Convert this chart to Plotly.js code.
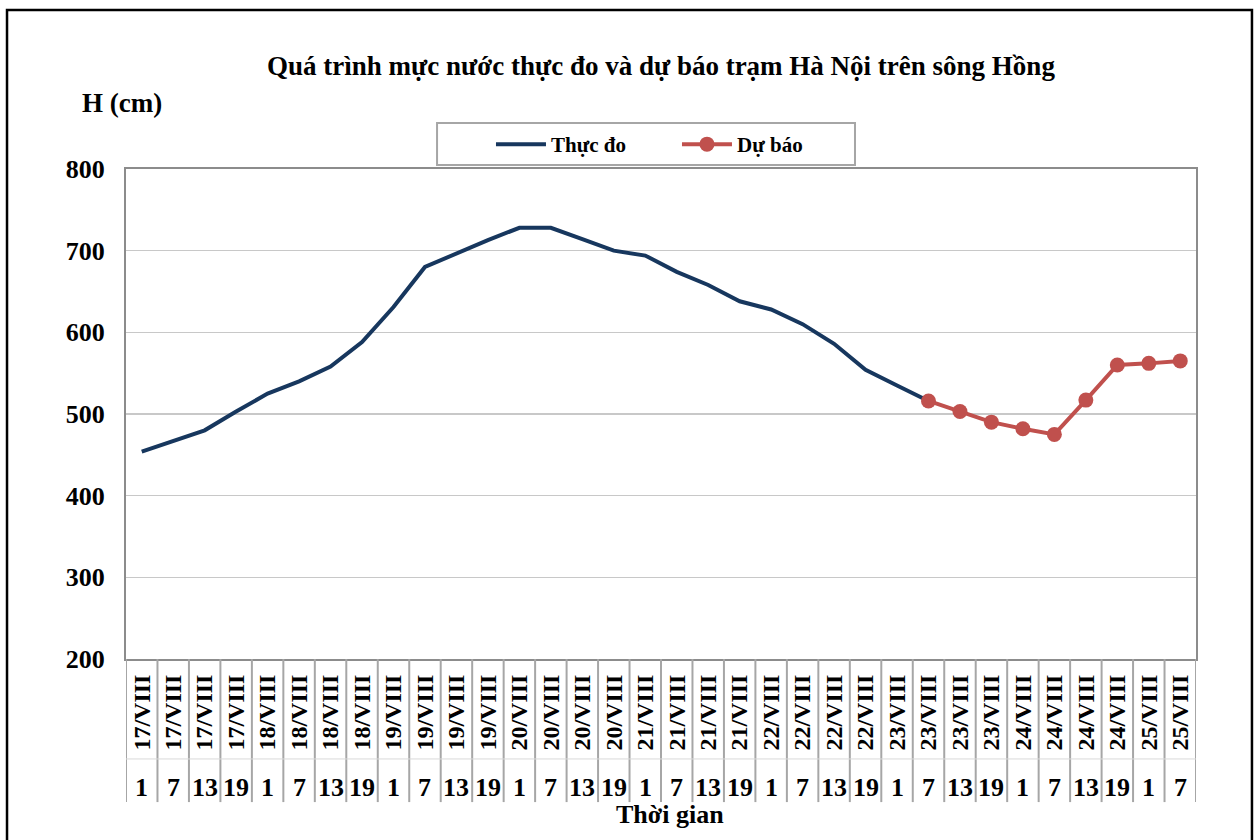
<!DOCTYPE html>
<html>
<head>
<meta charset="utf-8">
<script src="https://cdn.plot.ly/plotly-3.0.1.min.js"></script>
<style>html,body{margin:0;padding:0;background:#fff;}#chart{width:1257px;height:840px;}</style>
</head>
<body>
<div id="chart"></div>
<script>
const dates = ["17/VIII","17/VIII","17/VIII","17/VIII","18/VIII","18/VIII","18/VIII","18/VIII","19/VIII","19/VIII","19/VIII","19/VIII","20/VIII","20/VIII","20/VIII","20/VIII","21/VIII","21/VIII","21/VIII","21/VIII","22/VIII","22/VIII","22/VIII","22/VIII","23/VIII","23/VIII","23/VIII","23/VIII","24/VIII","24/VIII","24/VIII","24/VIII","25/VIII","25/VIII"];
const hours = ["1","7","13","19","1","7","13","19","1","7","13","19","1","7","13","19","1","7","13","19","1","7","13","19","1","7","13","19","1","7","13","19","1","7"];
const observed = [454,467,480,503,525,540,558,588,631,680,697,713,728,728,714,700,694,674,658,638,628,610,586,554,535,516,null,null,null,null,null,null,null,null];
const forecast = [null,null,null,null,null,null,null,null,null,null,null,null,null,null,null,null,null,null,null,null,null,null,null,null,null,516,503,490,482,475,517,560,562,565];

const FONT = "Liberation Serif, 'Times New Roman', serif";
const idx = dates.map((d, i) => i);

const traces = [
  {x: idx, y: observed, name: "Thực đo", type: "scatter", mode: "lines",
   line: {color: "#17375E", width: 4}, connectgaps: false},
  {x: idx, y: forecast, name: "Dự báo", type: "scatter", mode: "lines+markers",
   line: {color: "#C0504D", width: 4}, marker: {color: "#C0504D", size: 15}, connectgaps: false}
];

const shapes = [];
for (let i = 0; i <= dates.length; i++) {
  shapes.push({type: "line", xref: "x", yref: "paper", x0: i - 0.5, x1: i - 0.5, y0: 0, y1: -0.292,
    line: {color: "#a6a6a6", width: 2}});
}
shapes.push({type: "line", xref: "paper", yref: "paper", x0: 0, x1: 1, y0: -0.204, y1: -0.204,
  line: {color: "#d9d9d9", width: 1}});
shapes.push({type: "rect", xref: "paper", yref: "paper", x0: -0.1112, x1: 1.0523, y0: -0.4, y1: 1.3245,
  line: {color: "#000", width: 2.5}, fillcolor: "rgba(0,0,0,0)", layer: "below"});
// legend frame
shapes.push({type: "rect", xref: "paper", yref: "paper", x0: 0.2907, x1: 0.6813, y0: 1.0082, y1: 1.0939,
  line: {color: "#a6a6a6", width: 2}, fillcolor: "#fff", layer: "below"});

const annotations = hours.map((h, i) => ({
  x: i, y: -0.263, xref: "x", yref: "paper", text: h, showarrow: false,
  font: {family: FONT, size: 26, color: "#000", weight: 700}, yanchor: "middle", xanchor: "center"
}));
annotations.push({x: -0.0033, y: 1.1347, xref: "paper", yref: "paper", text: "H (cm)", showarrow: false,
  font: {family: FONT, size: 27, color: "#000", weight: 700}, xanchor: "center", yanchor: "middle"});
annotations.push({x: 0.508, y: -0.318, xref: "paper", yref: "paper", text: "Thời gian", showarrow: false,
  font: {family: FONT, size: 26, color: "#000", weight: 700}, xanchor: "center", yanchor: "middle"});

const layout = {
  width: 1257, height: 840,
  margin: {l: 126, r: 61, t: 169, b: 181},
  paper_bgcolor: "#fff", plot_bgcolor: "#fff",
  font: {family: FONT, color: "#000", weight: 700},
  title: {text: "Quá trình mực nước thực đo và dự báo trạm Hà Nội trên sông Hồng",
    font: {family: FONT, size: 27, color: "#000", weight: 700},
    x: 0.5, xref: "paper", xanchor: "center", y: 1 - 66/840, yref: "container", yanchor: "middle"},
  xaxis: {range: [-0.5, 33.5], tickmode: "array", tickvals: idx, ticktext: dates, tickangle: -90,
    tickfont: {family: FONT, size: 24, color: "#000", weight: 700},
    showgrid: false, zeroline: false, showline: true, mirror: true, linecolor: "#8c8c8c", linewidth: 2,
    ticks: "", ticklabelstandoff: 4, fixedrange: true},
  yaxis: {range: [200, 800], dtick: 100, tick0: 200,
    tickfont: {family: FONT, size: 26, color: "#000", weight: 700},
    showgrid: true, gridcolor: "#c8c8c8", gridwidth: 1.5, zeroline: false,
    showline: true, mirror: true, linecolor: "#8c8c8c", linewidth: 2, ticks: "", ticklabelstandoff: 14},
  showlegend: true,
  legend: {orientation: "h", x: 0.3411, xanchor: "left", y: 1.0082, yanchor: "bottom",
    borderwidth: 0, bgcolor: "rgba(0,0,0,0)",
    font: {family: FONT, size: 21, color: "#000", weight: 700},
    entrywidth: 121, entrywidthmode: "pixels", itemwidth: 50},
  shapes: shapes,
  annotations: annotations
};

Plotly.newPlot("chart", traces, layout, {displayModeBar: false, staticPlot: true});
</script>
</body>
</html>
